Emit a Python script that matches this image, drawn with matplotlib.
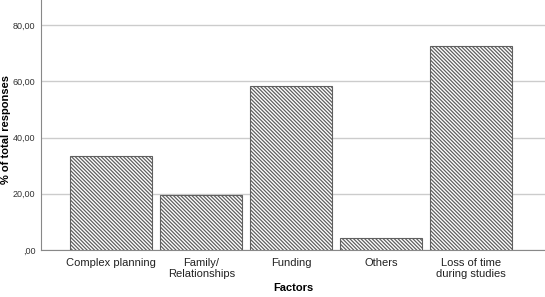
import matplotlib
matplotlib.use("Agg")
import matplotlib.pyplot as plt

categories = ["Complex planning", "Family/\nRelationships", "Funding", "Others", "Loss of time\nduring studies"]
values = [33.4, 19.6, 58.3, 4.4, 72.5]
yticks = [0, 20, 40, 60, 80]
ytick_labels = [",00", "20,00", "40,00", "60,00", "80,00"]

plt.rcParams['font.family'] = ['Liberation Sans', 'DejaVu Sans']
plt.rcParams['hatch.color'] = '#505050'
plt.rcParams['hatch.linewidth'] = 0.9

fig = plt.figure(figsize=(5.45, 2.97), dpi=100)
ax = fig.add_axes([41/545, 1-250/297, 1-41/545, 250/297])

x = list(range(len(categories)))
ax.bar(x, values, width=0.91, facecolor='white', edgecolor='#606060',
       linewidth=0.8, hatch='\\' * 9, zorder=3)

ax.set_xlim(-0.78, 4.82)
ax.set_ylim(0, 88.9)
ax.set_yticks(yticks)
ax.set_yticklabels(ytick_labels, fontsize=6.5, color='#333333')
ax.set_xticks(x)
ax.set_xticklabels(categories, fontsize=8, color='#222222', linespacing=1.05)
ax.tick_params(axis='both', length=0)
ax.tick_params(axis='x', pad=6)
ax.tick_params(axis='y', pad=4)

ax.yaxis.grid(True, color='#cccccc', linewidth=1, zorder=0)
ax.set_axisbelow(True)
for s in ['top', 'right']:
    ax.spines[s].set_visible(False)
for s in ['left', 'bottom']:
    ax.spines[s].set_color('#888888')
    ax.spines[s].set_linewidth(0.8)

fig.text(6/545, 1-130/297, "% of total responses", fontsize=8, fontweight='bold',
         rotation=90, ha='center', va='center')
fig.text(293/545, 1-293/297, "Factors", fontsize=8, fontweight='bold', ha='center', va='bottom')

fig.savefig("out.png", dpi=100)
